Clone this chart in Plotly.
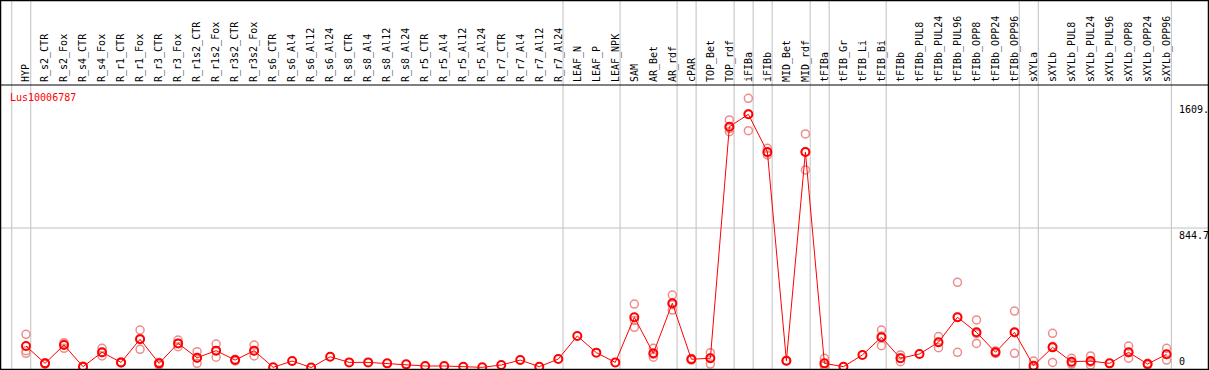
import plotly.graph_objects as go

categories = ["HYP", "R_s2_CTR", "R_s2_Fox", "R_s4_CTR", "R_s4_Fox", "R_r1_CTR", "R_r1_Fox",
              "R_r3_CTR", "R_r3_Fox", "R_r1s2_CTR", "R_r1s2_Fox", "R_r3s2_CTR", "R_r3s2_Fox",
              "R_s6_CTR", "R_s6_Al4", "R_s6_Al12", "R_s6_Al24", "R_s8_CTR", "R_s8_Al4",
              "R_s8_Al12", "R_s8_Al24", "R_r5_CTR", "R_r5_Al4", "R_r5_Al12", "R_r5_Al24",
              "R_r7_CTR", "R_r7_Al4", "R_r7_Al12", "R_r7_Al24", "LEAF_N", "LEAF_P", "LEAF_NPK",
              "SAM", "AR_Bet", "AR_rdf", "cPAR", "TOP_Bet", "TOP_rdf", "iFIBa", "iFIBb",
              "MID_Bet", "MID_rdf", "tFIBa", "tFIB_Gr", "tFIB_Li", "tFIB_Bi", "tFIBb",
              "tFIBb_PUL8", "tFIBb_PUL24", "tFIBb_PUL96", "tFIBb_OPP8", "tFIBb_OPP24",
              "tFIBb_OPP96", "sXYLa", "sXYLb", "sXYLb_PUL8", "sXYLb_PUL24", "sXYLb_PUL96",
              "sXYLb_OPP8", "sXYLb_OPP24", "sXYLb_OPP96"]

mean_vals = [130, 25, 136, 5, 92, 31, 171, 25, 146, 59, 102, 45, 102,
             1, 39, 0, 65, 31, 31, 25, 19, 9, 9, 5, 1, 15, 45, 5, 51, 191, 90, 31,
             304, 86, 389, 50, 56, 1458, 1533, 1305, 41, 1305, 25, 5, 76, 183, 56,
             82, 153, 304, 213, 92, 213, 11, 122, 35, 39, 25, 92, 21, 80]

rep1 = [201, 20, 150, 3, 116, 28, 227, 15, 166, 96, 142, 40, 136,
        None, None, None, None, None, None, None, None, None, None, None, None, None, None, None, None, None, None, None,
        384, 116, 439, 45, 90, 1499, 1630, 1327, 40, 1414, 56, None, None, 227, 76,
        None, 187, 516, 288, 100, 342, 39, 207, 56, 70, None, 130, 25, 116]
rep2 = [102, 28, 116, 5, 70, 34, 110, 30, 126, 25, 62, 50, 70,
        None, None, None, None, None, None, None, None, None, None, None, None, None, None, None, None, None, None, None,
        243, 62, 348, 55, 21, 1428, 1434, 1287, 42, 1196, 10, None, None, 132, 35,
        None, 120, 92, 146, 85, 86, 0, 31, 21, 15, None, 56, 15, 45]
rep3 = [86, 27, 142, 7, 90, 31, 176, 30, 146, 56, 102, 45, 100,
        None, None, None, None, None, None, None, None, None, None, None, None, None, None, None, None, None, None, None,
        285, 80, 380, 50, 57, 1447, 1535, 1300, 41, 1305, 10, None, None, 190, 57,
        None, 152, 304, 205, 92, 211, 0, 128, 28, 32, None, 90, 21, 79]

group_ends = [-1, 0, 28, 31, 34, 35, 37, 38, 39, 41, 42, 45, 52, 53, 60]
y_tick_vals = [1609.4, 844.7]
y_tick_text = ["1609.", "844.7"]
zero_text = "0"
gene_name = "Lus10006787"

W, H = 1209, 370
ML, MR, MT, MB = 1, 1, 85, 1
PW = W - ML - MR
PH = H - MT - MB

x_idx = list(range(len(categories)))
FONT = "DejaVu Sans Mono"

fig = go.Figure()

for reps in (rep1, rep2, rep3):
    fig.add_trace(go.Scatter(
        x=x_idx, y=reps, mode="markers",
        marker=dict(symbol="circle-open", size=8, color="rgb(238,140,140)",
                    line=dict(width=1.5, color="rgb(238,140,140)")),
        showlegend=False, hoverinfo="skip", cliponaxis=False))

fig.add_trace(go.Scatter(
    x=x_idx, y=mean_vals, mode="lines+markers",
    line=dict(color="red", width=1),
    marker=dict(symbol="circle-open", size=8, color="red",
                line=dict(width=2, color="red")),
    showlegend=False, cliponaxis=False))

shapes = []
for g in group_ends:
    shapes.append(dict(type="line", xref="x", yref="paper",
                       x0=g + 0.25, x1=g + 0.25, y0=0, y1=1 + MT / PH,
                       line=dict(color="#c0c0c0", width=1), layer="below"))
shapes.append(dict(type="line", xref="paper", yref="y", x0=0, x1=1,
                   y0=y_tick_vals[1], y1=y_tick_vals[1],
                   line=dict(color="#c0c0c0", width=1), layer="below"))
shapes.append(dict(type="line", xref="paper", yref="paper", x0=0, x1=1, y0=1, y1=1,
                   line=dict(color="black", width=1)))
shapes.append(dict(type="rect", xref="paper", yref="paper",
                   x0=-0.5 / PW, x1=1 + 0.5 / PW, y0=-0.5 / PH, y1=1 + (MT - 0.5) / PH,
                   line=dict(color="black", width=1.5), fillcolor="rgba(0,0,0,0)"))

annotations = []
for v, t in zip(y_tick_vals, y_tick_text):
    annotations.append(dict(x=(1177 - ML) / PW, xref="paper", y=v, yref="y",
                            text=t, showarrow=False, xanchor="left", yanchor="top",
                            font=dict(family=FONT, size=10, color="black")))
annotations.append(dict(x=(1177 - ML) / PW, xref="paper", y=0, yref="y",
                        text=zero_text, showarrow=False, xanchor="left", yanchor="bottom",
                        yshift=-1, font=dict(family=FONT, size=10, color="black")))
annotations.append(dict(x=(8 - ML) / PW, xref="paper", y=1 - 5 / PH, yref="paper",
                        text=gene_name, showarrow=False, xanchor="left", yanchor="top",
                        font=dict(family=FONT, size=10, color="red")))

x0px = 26
xunit = 19.01
xmin = (ML - x0px) / xunit
xmax = (ML + PW - x0px) / xunit
yscale = (367.5 - 228) / 844.7
ymin = -(MT + PH - 367.5) / yscale
ymax = (367.5 - MT) / yscale

fig.update_layout(
    width=W, height=H,
    margin=dict(l=ML, r=MR, t=MT, b=MB, pad=0, autoexpand=False),
    paper_bgcolor="white", plot_bgcolor="white",
    xaxis=dict(range=[xmin, xmax], side="top", tickmode="array", tickvals=x_idx,
               ticktext=categories, tickangle=-90, showgrid=False, zeroline=False,
               showline=False, ticks="", automargin=False, ticklabelstandoff=2,
               tickfont=dict(family=FONT, size=10, color="black")),
    yaxis=dict(range=[ymin, ymax], showgrid=False, zeroline=False, showticklabels=False,
               showline=False, ticks="", automargin=False),
    shapes=shapes, annotations=annotations,
)

fig.write_html("out.html", config={"displayModeBar": False, "staticPlot": True},
               post_script="document.body.style.margin='0';document.body.style.overflow='hidden';")
